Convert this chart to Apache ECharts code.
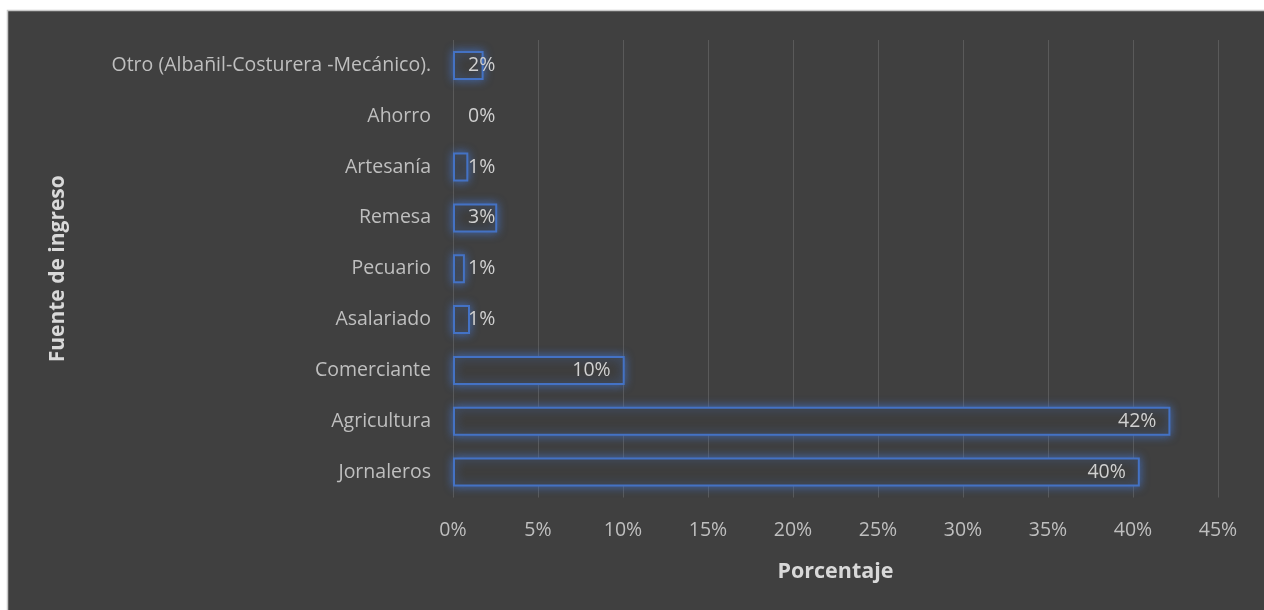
<!DOCTYPE html>
<html><head><meta charset="utf-8">
<script src="https://cdn.jsdelivr.net/npm/echarts@6/dist/echarts.min.js"></script>
<style>html,body{margin:0;padding:0;background:#fff;}#c{width:1264px;height:610px;}</style>
</head><body><div id="c"></div>
<script>
const categories = ["Jornaleros","Agricultura","Comerciante","Asalariado","Pecuario","Remesa","Artesanía","Ahorro","Otro (Albañil-Costurera -Mecánico)."];
const values = [0.404, 0.422, 0.101, 0.010, 0.007, 0.026, 0.009, 0.0, 0.018];
const xTicks = [0, 0.05, 0.10, 0.15, 0.20, 0.25, 0.30, 0.35, 0.40, 0.45];
const font = "'Open Sans', sans-serif";
const chart = echarts.init(document.getElementById('c'));
chart.setOption({
  animation: false,
  backgroundColor: '#fff',
  graphic: [{type:'rect', z:-10, shape:{x:7.5,y:10.5,width:1270,height:620}, style:{fill:'#404040', stroke:'#c8c8c8', lineWidth:1.5}}],
  grid: {left:453, right:46, top:40, bottom:112.5},
  xAxis: {
    type:'value', min:0, max:0.45, interval:0.05,
    name:'Porcentaje', nameLocation:'middle', nameGap:63,
    nameTextStyle:{color:'#d9d9d9', fontSize:21.5, fontWeight:'bold', fontFamily:font},
    axisLine:{show:false}, axisTick:{show:false},
    splitLine:{lineStyle:{color:'#5a5a5a', width:1}},
    axisLabel:{color:'#bfbfbf', fontSize:19.5, fontFamily:font, margin:23, formatter:v=>Math.round(v*100)+'%'}
  },
  yAxis: {
    type:'category', data:categories,
    name:'Fuente de ingreso', nameLocation:'middle', nameGap:384, nameRotate:90,
    nameTextStyle:{color:'#d9d9d9', fontSize:21, fontWeight:'bold', fontFamily:font},
    axisLine:{show:false}, axisTick:{show:false},
    axisLabel:{color:'#bfbfbf', fontSize:19.5, fontFamily:font, margin:22}
  },
  series: [{
    type:'bar', data: values.map(v=>({value:v,
      itemStyle: v===0?{borderWidth:0, shadowBlur:0, color:'rgba(0,0,0,0)'}:undefined,
      label:{position: v>0.05?'insideRight':'insideLeft', distance: v>0.05?14:15}})),
    barWidth:29,
    itemStyle:{color:'#3e3e3e', borderColor:'#4472c4', borderWidth:2, shadowColor:'rgba(68,114,196,0.85)', shadowBlur:10},
    label:{show:true, color:'#d0d0d0', fontSize:19.5, fontFamily:font, formatter:p=>Math.round(p.value*100)+'%'}
  }]
});
</script></body></html>
